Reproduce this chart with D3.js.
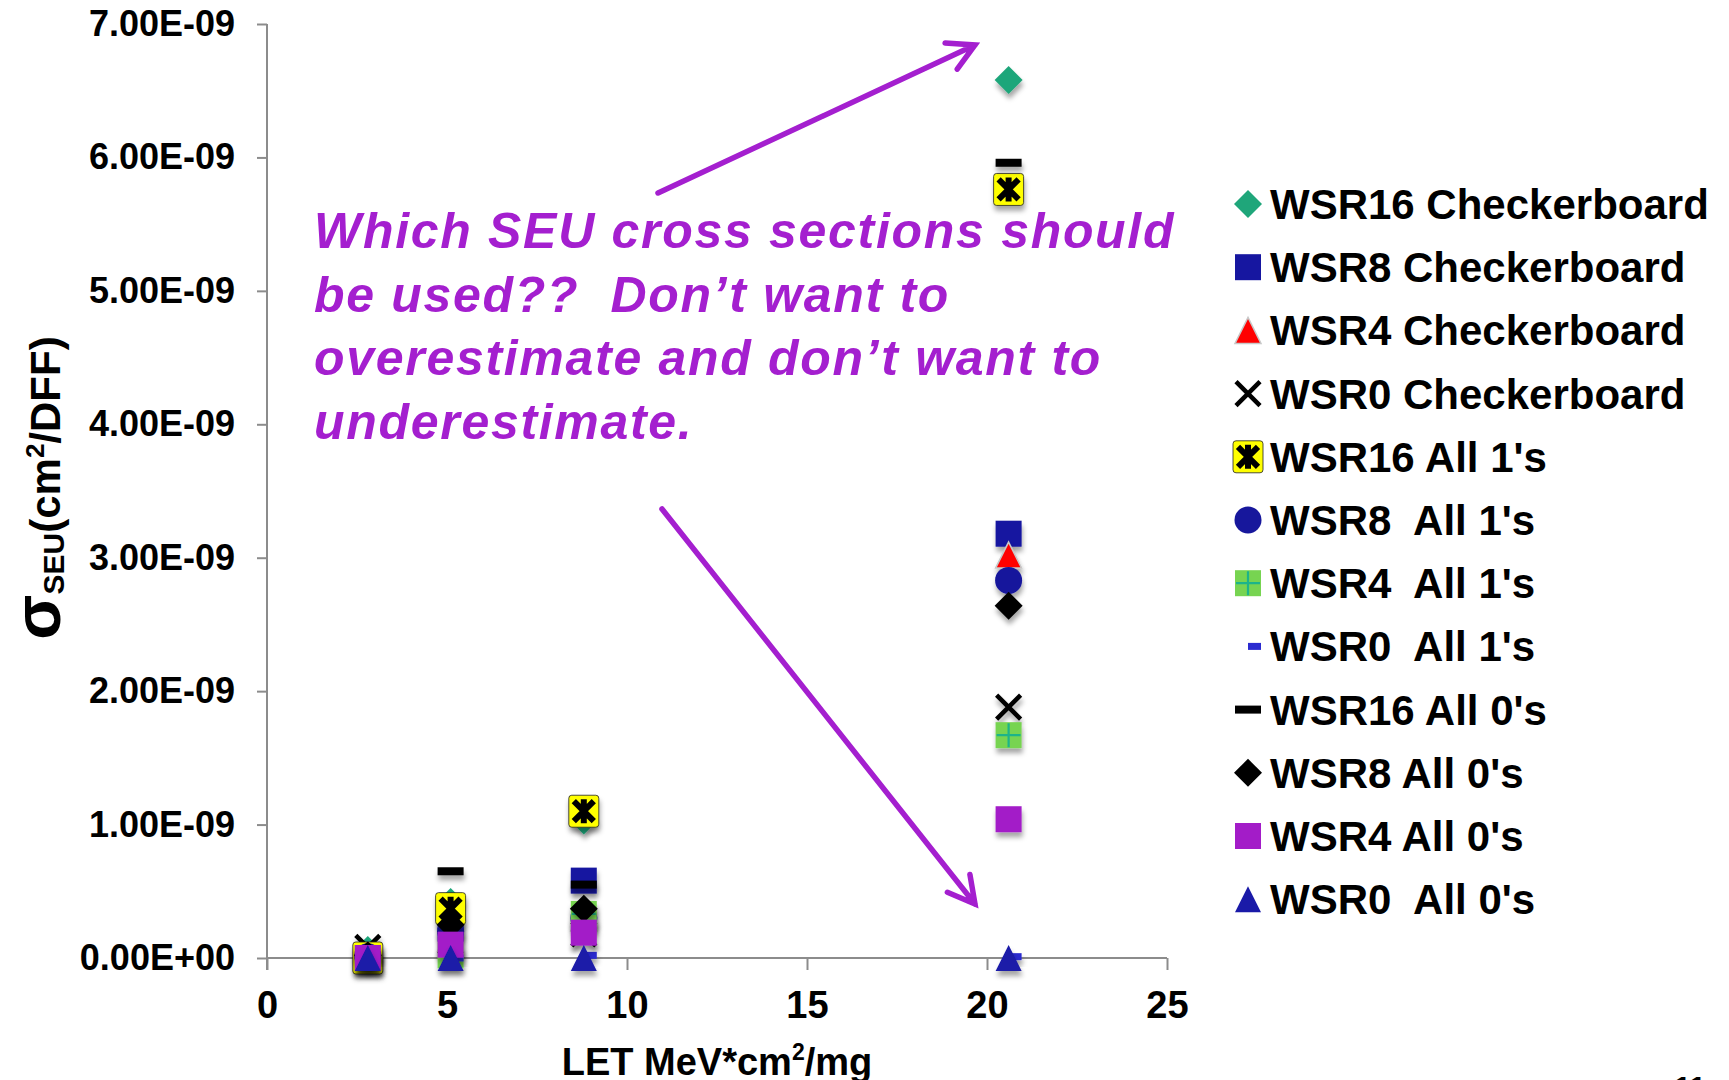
<!DOCTYPE html>
<html>
<head>
<meta charset="utf-8">
<script src="https://cdn.jsdelivr.net/npm/d3@7"></script>
<style>
  html, body { margin: 0; padding: 0; background: #fff; overflow: hidden; }
  svg { display: block; font-family: "Liberation Sans", Arial, sans-serif; }
</style>
</head>
<body>
<svg id="chart" width="1729" height="1080"></svg>
<script>
// LET values (MeV*cm2/mg) for each ion run
var letValues = [2.8, 5.1, 8.8, 20.6];

// cross sections, units of 1e-9 cm2/DFF, one array per series
var wsr16Checker = [0.06, 0.42, 1.03, 6.58];
var wsr8Checker  = [0.02, 0.22, 0.58, 3.18];
var wsr4Checker  = [0.02, 0.15, 0.30, 3.02];
var wsr0Checker  = [0.08, 0.12, 0.18, 1.88];
var wsr16Ones    = [0.00, 0.37, 1.10, 5.76];
var wsr8Ones     = [0.01, 0.20, 0.30, 2.83];
var wsr4Ones     = [0.00, 0.02, 0.33, 1.67];
var wsr0Ones     = [0.00, 0.00, 0.02, 0.01];
var wsr16Zeros   = [0.02, 0.65, 0.55, 5.96];
var wsr8Zeros    = [0.02, 0.25, 0.37, 2.64];
var wsr4Zeros    = [0.00, 0.10, 0.19, 1.04];
var wsr0Zeros    = [0.00, 0.00, 0.00, 0.00];

var seriesNames = ["WSR16 Checkerboard", "WSR8 Checkerboard", "WSR4 Checkerboard", "WSR0 Checkerboard",
  "WSR16 All 1's", "WSR8  All 1's", "WSR4  All 1's", "WSR0  All 1's",
  "WSR16 All 0's", "WSR8 All 0's", "WSR4 All 0's", "WSR0  All 0's"];
var seriesValues = [wsr16Checker, wsr8Checker, wsr4Checker, wsr0Checker,
  wsr16Ones, wsr8Ones, wsr4Ones, wsr0Ones,
  wsr16Zeros, wsr8Zeros, wsr4Zeros, wsr0Zeros];
var seriesMarkers = ["diamondGreen", "squareBlue", "triangleRed", "cross",
  "asterisk", "circleBlue", "plusGreen", "dashBlue",
  "dashBlack", "diamondBlack", "squarePurple", "triangleBlue"];

var yTicks = [0, 1e-9, 2e-9, 3e-9, 4e-9, 5e-9, 6e-9, 7e-9];
var xTicks = [0, 5, 10, 15, 20, 25];

var noteLines = ["Which SEU cross sections should", "be used??  Don\u2019t want to",
  "overestimate and don\u2019t want to", "underestimate."];

var purple = "#a41fcf";
var svg = d3.select("#chart");

var x = d3.scaleLinear().domain([0, 25]).range([267, 1167]);
var y = d3.scaleLinear().domain([0, 7e-9]).range([958, 24]);

var defs = svg.append("defs");
var f = defs.append("filter").attr("id", "shadow").attr("x", "-50%").attr("y", "-50%").attr("width", "200%").attr("height", "200%");
f.append("feDropShadow").attr("dx", 1).attr("dy", 5).attr("stdDeviation", 2.5)
  .attr("flood-color", "#000").attr("flood-opacity", 0.35);

function sciLabel(d){
  if (d === 0) return "0.00E+00";
  var e = Math.floor(Math.log10(d) + 1e-9);
  var m = d / Math.pow(10, e);
  var es = Math.abs(e) < 10 ? "0" + Math.abs(e) : "" + Math.abs(e);
  return m.toFixed(2) + "E" + (e < 0 ? "-" : "+") + es;
}

// axes
var yAxis = d3.axisLeft(y).tickValues(yTicks).tickSize(10).tickPadding(22).tickFormat(sciLabel);
var gy = svg.append("g").attr("transform", "translate(267,0)").call(yAxis);
gy.select(".domain").attr("d", "M0,24V970");

var xAxis = d3.axisBottom(x).tickValues(xTicks).tickSize(12).tickPadding(21).tickFormat(d3.format("d"));
var gx = svg.append("g").attr("transform", "translate(0,958)").call(xAxis);
gx.select(".domain").attr("d", "M267,0H1167");

svg.selectAll(".domain, .tick line").attr("stroke", "#8c8c8c").attr("stroke-width", 2);
gy.selectAll("text").attr("font-size", 36).attr("font-weight", "bold").attr("fill", "#000");
gx.selectAll("text").attr("font-size", 38).attr("font-weight", "bold").attr("fill", "#000");

// axis titles
var yt = svg.append("text").attr("transform", "translate(60,488) rotate(-90)")
  .attr("text-anchor", "middle").attr("font-weight", "bold").attr("fill", "#000");
yt.append("tspan").attr("font-size", 66).text("\u03c3");
yt.append("tspan").attr("font-size", 30).attr("dy", 4).text("SEU");
yt.append("tspan").attr("font-size", 42).attr("dy", -4).text("(cm");
yt.append("tspan").attr("font-size", 26).attr("dy", -16).text("2");
yt.append("tspan").attr("font-size", 42).attr("dy", 16).text("/DFF)");

var xt = svg.append("text").attr("x", 717).attr("y", 1075).attr("text-anchor", "middle")
  .attr("font-weight", "bold").attr("font-size", 38).attr("fill", "#000");
xt.append("tspan").text("LET MeV*cm");
xt.append("tspan").attr("font-size", 23).attr("dy", -15).text("2");
xt.append("tspan").attr("dy", 15).text("/mg");

svg.append("text").attr("x", 1690).attr("y", 1097).attr("text-anchor", "middle")
  .attr("font-size", 30).attr("font-weight", "bold").text("11");

// marker shapes, drawn around 0,0
function drawMarker(g, type){
  if (type === "diamondGreen" || type === "diamondBlack") {
    g.append("path").attr("d", "M0,-14L14,0L0,14L-14,0Z")
      .attr("fill", type === "diamondGreen" ? "#1fa67a" : "#000");
  } else if (type === "squareBlue" || type === "squarePurple") {
    g.append("rect").attr("x", -13).attr("y", -13).attr("width", 26).attr("height", 26)
      .attr("fill", type === "squareBlue" ? "#1616a0" : "#a31cc8");
  } else if (type === "triangleRed" || type === "triangleBlue") {
    g.append("path").attr("d", "M0,-13L13,13L-13,13Z")
      .attr("fill", type === "triangleRed" ? "#ff0000" : "#1a1aa8")
      .attr("stroke", type === "triangleRed" ? "#c8c8c8" : "none").attr("stroke-width", 1.5);
  } else if (type === "cross") {
    g.append("path").attr("d", "M-12,-12L12,12M12,-12L-12,12")
      .attr("stroke", "#000").attr("stroke-width", 4.5).attr("fill", "none");
  } else if (type === "asterisk") {
    g.append("rect").attr("x", -15).attr("y", -16).attr("width", 30).attr("height", 32).attr("rx", 3)
      .attr("fill", "#ffff00").attr("stroke", "#222").attr("stroke-width", 0.8);
    g.append("path").attr("d", "M0,-12V12M-10,-10L10,10M10,-10L-10,10")
      .attr("stroke", "#000").attr("stroke-width", 6).attr("fill", "none");
  } else if (type === "circleBlue") {
    g.append("circle").attr("r", 13.5).attr("fill", "#17179c");
  } else if (type === "plusGreen") {
    g.append("rect").attr("x", -13).attr("y", -13).attr("width", 26).attr("height", 26).attr("fill", "#77d451");
    g.append("path").attr("d", "M0,-12V12M-12,0H12").attr("stroke", "#1cb48a").attr("stroke-width", 2.2);
  } else if (type === "dashBlue") {
    g.append("rect").attr("x", 0).attr("y", -3.5).attr("width", 13).attr("height", 7).attr("fill", "#2b2bd0");
  } else if (type === "dashBlack") {
    g.append("rect").attr("x", -13).attr("y", -4).attr("width", 26).attr("height", 8).attr("fill", "#000");
  }
}

// points, in legend order so later series sit on top
seriesValues.forEach(function(vals, i){
  var s = svg.append("g").attr("class", "series").attr("filter", "url(#shadow)");
  vals.forEach(function(v, j){
    var g = s.append("g").attr("transform", "translate(" + x(letValues[j]) + "," + y(v * 1e-9) + ")");
    drawMarker(g, seriesMarkers[i]);
  });
});

// legend
var legend = svg.append("g").attr("transform", "translate(1248,204)");
seriesNames.forEach(function(name, i){
  var row = legend.append("g").attr("transform", "translate(0," + (i * 63.2) + ")");
  drawMarker(row, seriesMarkers[i]);
  row.append("text").attr("x", 22).attr("y", 15).attr("font-size", 42).attr("font-weight", "bold")
    .attr("fill", "#000").attr("xml:space", "preserve").style("white-space", "pre").text(name);
});

// annotation
var note = svg.append("text").attr("font-size", 50).attr("font-weight", "bold").attr("font-style", "italic")
  .attr("letter-spacing", 1.7).attr("fill", purple).style("white-space", "pre");
noteLines.forEach(function(t, i){
  note.append("tspan").attr("x", 314).attr("y", 248 + i * 63.5).text(t);
});

function arrow(x1, y1, x2, y2){
  var a = Math.atan2(y2 - y1, x2 - x1), len = 30, spread = 0.5;
  var p1 = [x2 - len * Math.cos(a - spread), y2 - len * Math.sin(a - spread)];
  var p2 = [x2 - len * Math.cos(a + spread), y2 - len * Math.sin(a + spread)];
  svg.append("path")
    .attr("d", "M" + x1 + "," + y1 + "L" + x2 + "," + y2 + "M" + p1 + "L" + x2 + "," + y2 + "L" + p2)
    .attr("stroke", purple).attr("stroke-width", 5.5).attr("fill", "none")
    .attr("stroke-linecap", "round").attr("stroke-linejoin", "miter");
}
arrow(658, 193, 975, 45);
arrow(662, 509, 975, 904);
</script>
</body>
</html>
